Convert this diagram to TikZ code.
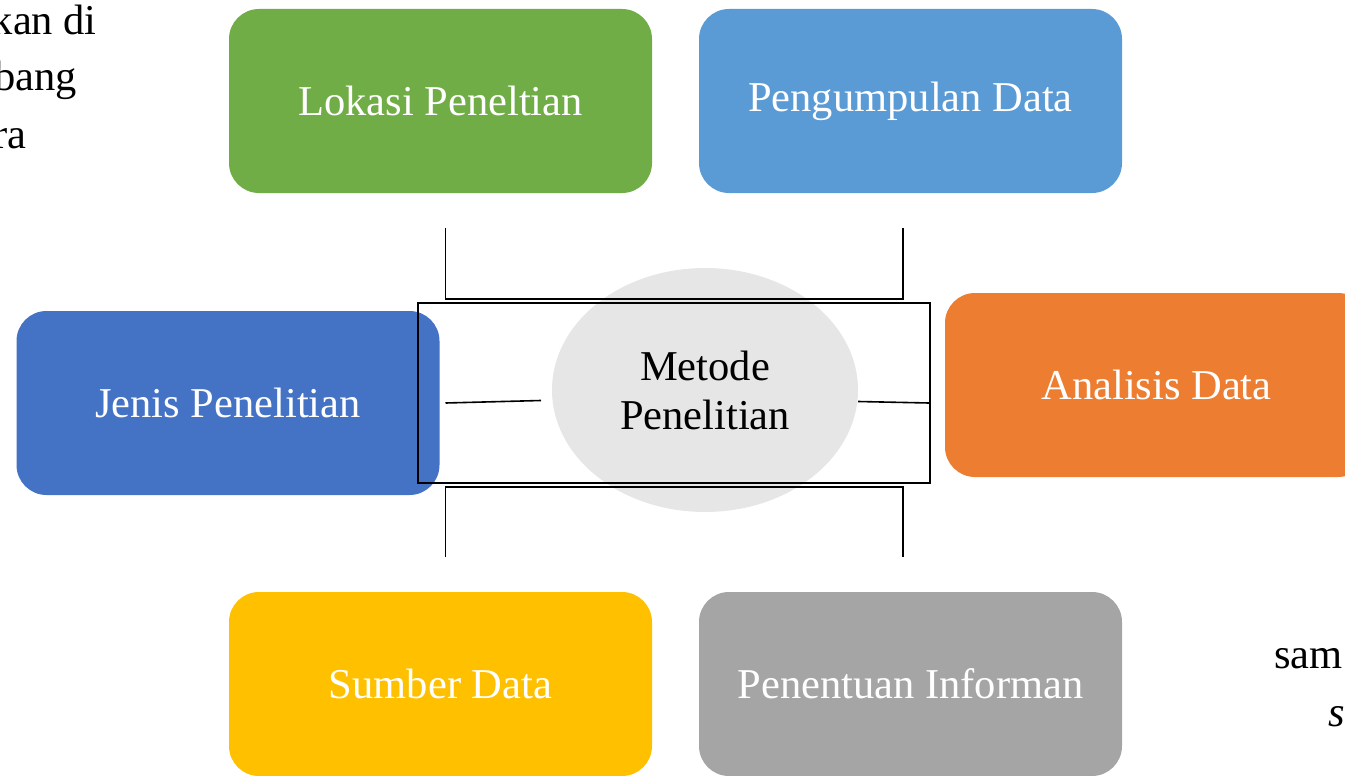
\documentclass[tikz,border=0pt]{standalone}
\usepackage{fontspec}
\setmainfont{Liberation Serif}
\usetikzlibrary{shapes.geometric}
\definecolor{cgreen}{HTML}{70AD47}
\definecolor{clblue}{HTML}{5B9BD5}
\definecolor{cblue}{HTML}{4472C4}
\definecolor{corange}{HTML}{ED7D31}
\definecolor{cyellow}{HTML}{FFC000}
\definecolor{cgray}{HTML}{A5A5A5}
\definecolor{cell}{HTML}{E7E6E6}
\tikzset{
  box/.style={rectangle, rounded corners=30pt, minimum width=423pt, minimum height=184pt, inner sep=0pt, text=white, draw=none},
  big/.style={font=\fontsize{42.5}{49}\selectfont},
  conn/.style={draw=black, line width=1.6pt},
  side/.style={inner sep=0pt, text=black, font=\fontsize{42.5}{49}\selectfont}
}
\begin{document}
\begin{tikzpicture}[x=1pt,y=-1pt]
\useasboundingbox (0,0) rectangle (1345,776);
\clip (0,0) rectangle (1345,776);
% side text fragments
\node[side, anchor=base east] (t1) at (97,35) {kan di};
\node[side, anchor=base east] (t2) at (77,91) {bang};
\node[side, anchor=base east] (t3) at (27,148) {ra};
\node[side, anchor=base west] (t4) at (1274,668) {sam};
\node[side, anchor=base west] (t5) at (1328,726) {\itshape s};
% boxes
\node[box, big, fill=cgreen] (lok) at (440.5,101) {Lokasi Peneltian};
\node[box, big, fill=clblue] (peng) at (910.5,101) {Pengumpulan Data};
\node[box, big, fill=cblue] (jen) at (228,403) {Jenis Penelitian};
\node[box, big, fill=corange] (ana) at (1156.5,385) {Analisis Data};
\node[box, big, fill=cyellow] (sum) at (440.5,684) {Sumber Data};
\node[box, big, fill=cgray] (pen) at (910.5,684) {Penentuan Informan};
% central ellipse
\node[ellipse, fill=cell, minimum width=306pt, minimum height=244pt, inner sep=0pt, align=center, big] (met) at (705,390) {Metode\\Penelitian};
% frame
\node[rectangle, draw=black, line width=1.6pt, minimum width=512pt, minimum height=180pt, inner sep=0pt] (frame) at (674,393) {};
% connector coordinates
\coordinate (ua) at (445.5,228);
\coordinate (ub) at (903,228);
\coordinate (uc) at (445.5,299);
\coordinate (ud) at (903,299);
\coordinate (la) at (445.5,557);
\coordinate (lb) at (903,557);
\coordinate (lc) at (445.5,487);
\coordinate (ld) at (903,487);
\coordinate (ml1) at (445.5,403);
\coordinate (ml2) at (541,400.5);
\coordinate (mr1) at (858,401.5);
\coordinate (mr2) at (929,403);
\draw[conn] (ua) -- (uc) -- (ud) -- (ub);
\draw[conn] (la) -- (lc) -- (ld) -- (lb);
\draw[conn] (ml1) -- (ml2);
\draw[conn] (mr1) -- (mr2);
\end{tikzpicture}
\end{document}
